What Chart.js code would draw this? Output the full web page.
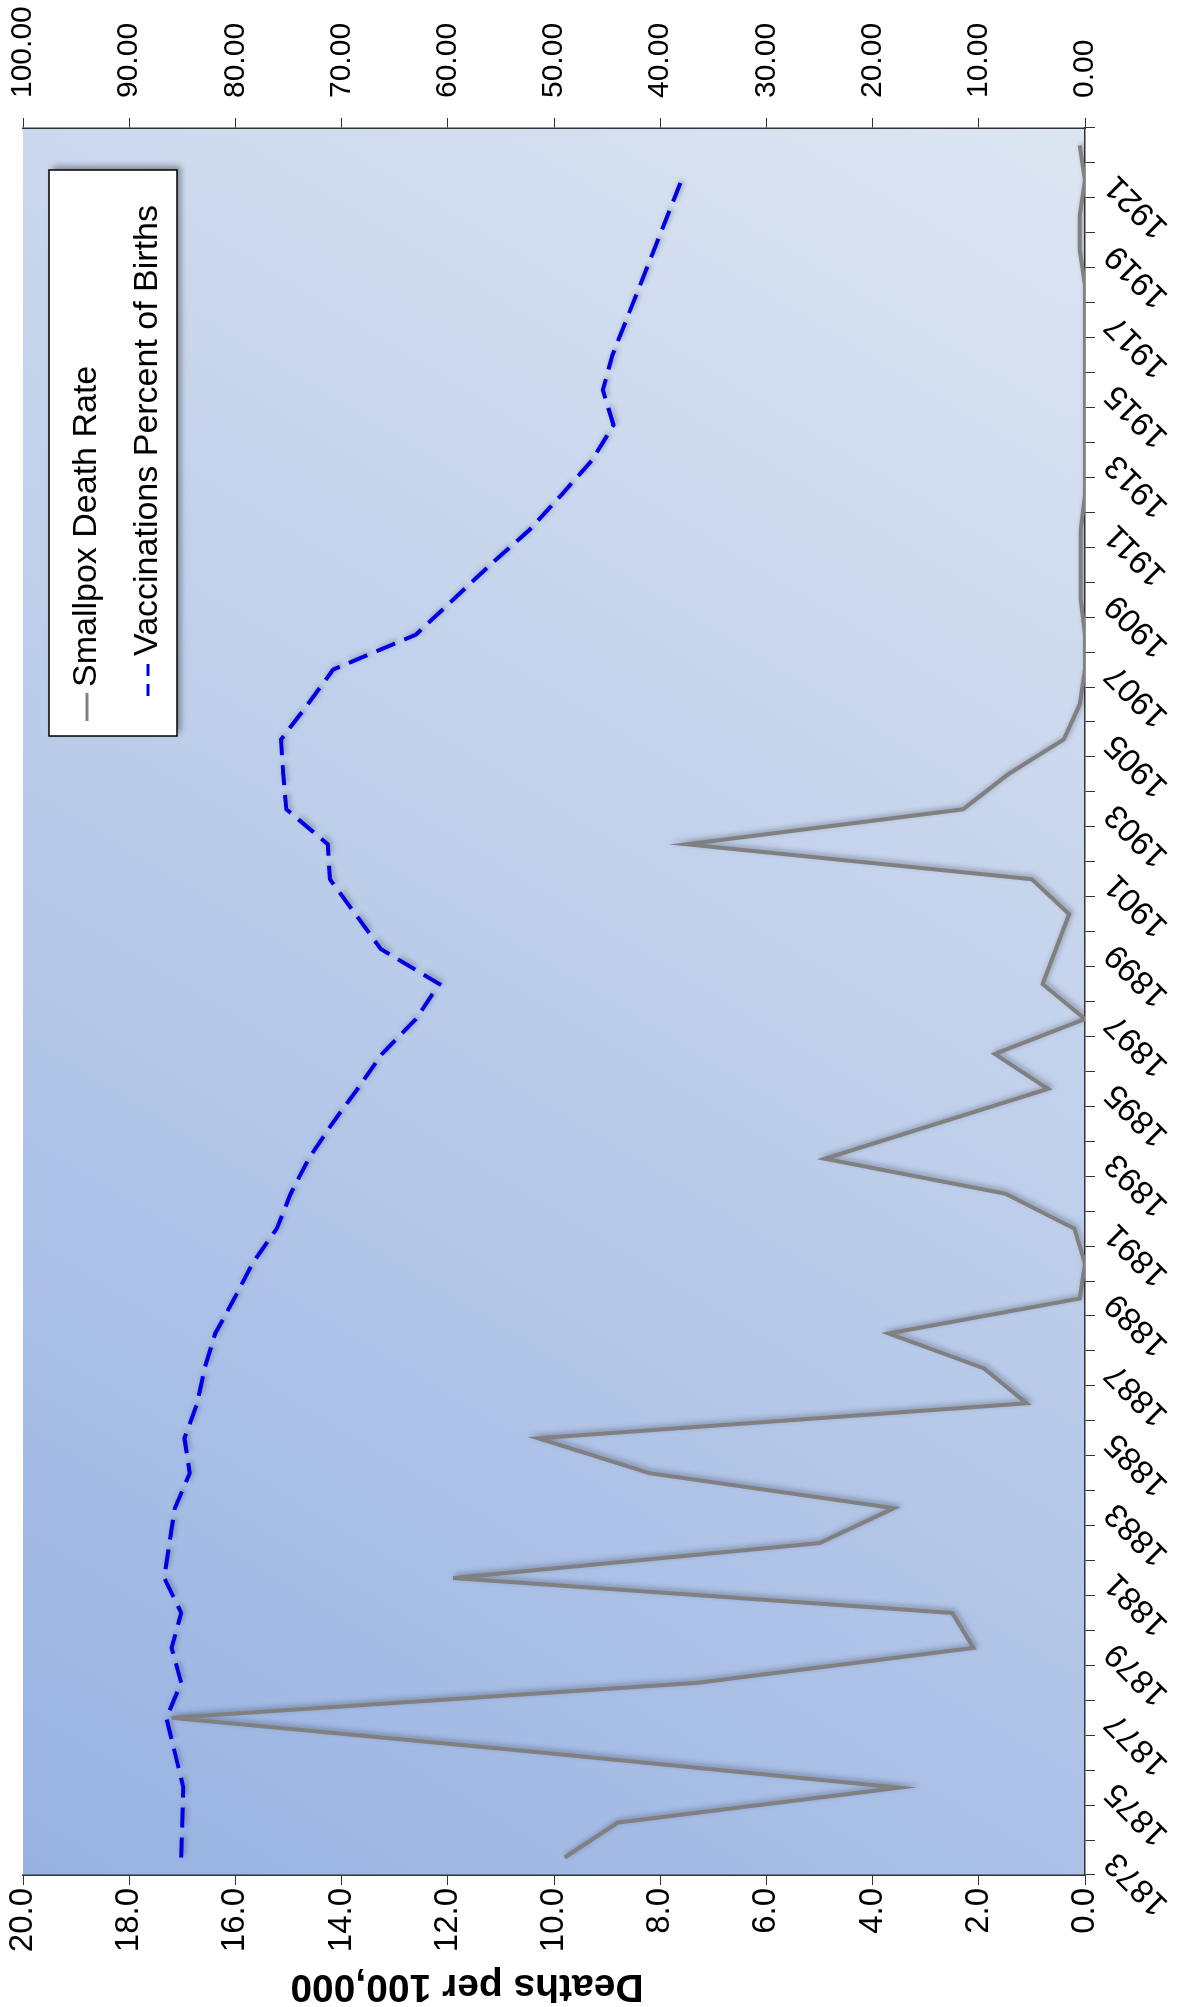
<!DOCTYPE html>
<html lang="en">
<head>
    <meta charset="UTF-8">
    <title>Smallpox Death Rate and Vaccinations</title>
    <style>
        html, body {
            margin: 0;
            padding: 0;
            background: #ffffff;
            width: 1177px;
            height: 2007px;
            overflow: hidden;
        }
        /* the chart is drawn landscape and turned a quarter turn to the left */
        #wrap {
            position: absolute;
            left: 0;
            top: 0;
            width: 2007px;
            height: 1177px;
            transform-origin: 0 0;
            transform: translateY(2007px) rotate(-90deg);
        }
    </style>
</head>
<body>
    <div id="wrap">
        <canvas id="myChart" width="2007" height="1177"></canvas>
    </div>

    <script src="https://cdn.jsdelivr.net/npm/chart.js"></script>
    <script>
        const years = [
            1873, 1874, 1875, 1876, 1877, 1878, 1879, 1880, 1881, 1882,
            1883, 1884, 1885, 1886, 1887, 1888, 1889, 1890, 1891, 1892,
            1893, 1894, 1895, 1896, 1897, 1898, 1899, 1900, 1901, 1902,
            1903, 1904, 1905, 1906, 1907, 1908, 1909, 1910, 1911, 1912,
            1913, 1914, 1915, 1916, 1917, 1918, 1919, 1920, 1921, 1922
        ];

        // deaths per 100,000 (left axis)
        const smallpoxDeaths = [
            9.8, 8.8, 3.5, 10.2, 17.2, 7.3, 2.1, 2.5, 11.9, 5.0,
            3.6, 8.2, 10.3, 1.1, 1.9, 3.7, 0.1, 0.0, 0.2, 1.5,
            4.9, 2.8, 0.7, 1.7, 0.0, 0.8, 0.55, 0.3, 1.0, 7.5,
            2.3, 1.45, 0.4, 0.1, 0.0, 0.0, 0.08, 0.08, 0.08, 0.0,
            0.0, 0.0, 0.0, 0.0, 0.0, 0.0, 0.1, 0.1, 0.0, 0.1
        ];

        // vaccinations as percent of births (right axis)
        const vaccinationPct = [
            85.1, 85.0, 84.9, 85.7, 86.5, 85.1, 86.0, 85.1, 86.7, 86.2,
            85.7, 84.3, 84.8, 83.6, 82.9, 81.9, 80.1, 78.4, 76.1, 74.8,
            73.1, 70.9, 68.5, 66.2, 63.0, 60.8, 66.3, 68.7, 71.1, 71.3,
            75.2, 75.5, 75.7, 73.2, 70.8, 63.0, 59.5, 56.0, 52.3, 49.3,
            46.4, 44.4, 45.4, 44.5, 43.2, 41.9, 40.6, 39.3, 38.0, null
        ];

        const leftTicks = [0, 2, 4, 6, 8, 10, 12, 14, 16, 18, 20];
        const rightTicks = [0, 10, 20, 30, 40, 50, 60, 70, 80, 90, 100];
        const leftTitle = 'Deaths per 100,000';

        const FONT = '"Liberation Sans", Arial, sans-serif';

        // blue gradient behind the plot
        const plotBackground = {
            id: 'plotBackground',
            beforeDraw(chart) {
                const { ctx, chartArea: a } = chart;
                const g = ctx.createLinearGradient(a.left, a.top, a.right, a.bottom);
                g.addColorStop(0, '#97b2e2');
                g.addColorStop(0.5, '#bccdea');
                g.addColorStop(1, '#dde5f2');
                ctx.save();
                ctx.fillStyle = g;
                ctx.fillRect(a.left, a.top, a.right - a.left, a.bottom - a.top);
                ctx.restore();
            }
        };

        // soft shadow under each line
        const lineShadow = {
            id: 'lineShadow',
            beforeDatasetDraw(chart) {
                const ctx = chart.ctx;
                ctx.save();
                ctx.shadowColor = 'rgba(40, 40, 60, 0.35)';
                ctx.shadowBlur = 5;
                ctx.shadowOffsetX = 2;
                ctx.shadowOffsetY = 2;
            },
            afterDatasetDraw(chart) {
                chart.ctx.restore();
            }
        };

        // left axis title, placed a bit above the middle like the original
        const axisTitle = {
            id: 'axisTitle',
            afterDraw(chart) {
                const { ctx, chartArea: a } = chart;
                const cy = a.top + (a.bottom - a.top) * 0.418;
                ctx.save();
                ctx.translate(21, cy);
                ctx.rotate(-Math.PI / 2);
                ctx.font = 'bold 39px ' + FONT;
                ctx.fillStyle = '#000000';
                ctx.textAlign = 'center';
                ctx.textBaseline = 'middle';
                ctx.fillText(leftTitle, 0, 0);
                ctx.restore();
            }
        };

        // boxed legend in the upper right of the plot
        const legendBox = {
            id: 'legendBox',
            afterDraw(chart) {
                const { ctx, chartArea: a } = chart;
                const w = 566, h = 128;
                const x = a.right - 42 - w;
                const y = a.top + 26;
                const starts = [15, 40];
                ctx.save();
                ctx.shadowColor = 'rgba(0, 0, 0, 0.35)';
                ctx.shadowBlur = 6;
                ctx.shadowOffsetX = 4;
                ctx.shadowOffsetY = 4;
                ctx.fillStyle = '#ffffff';
                ctx.fillRect(x, y, w, h);
                ctx.shadowColor = 'transparent';
                ctx.strokeStyle = '#000000';
                ctx.lineWidth = 1.5;
                ctx.strokeRect(x, y, w, h);
                ctx.font = '34px ' + FONT;
                ctx.textBaseline = 'middle';
                chart.data.datasets.forEach((ds, i) => {
                    const cy = y + 38 + i * 61;
                    const sx = x + starts[i];
                    const len = i === 1 ? 34 : 28;
                    ctx.beginPath();
                    ctx.setLineDash(i === 1 ? [12, 8] : []);
                    ctx.strokeStyle = ds.borderColor;
                    ctx.lineWidth = 3;
                    ctx.moveTo(sx, cy);
                    ctx.lineTo(sx + len, cy);
                    ctx.stroke();
                    ctx.setLineDash([]);
                    ctx.fillStyle = '#000000';
                    ctx.fillText(ds.label, sx + len + 6, cy);
                });
                ctx.restore();
            }
        };

        // keep the value axes from pushing the plot inwards
        function noEndPadding(scale, width) {
            scale.width = width;
            scale.paddingTop = 0;
            scale.paddingBottom = 0;
        }

        const ctx = document.getElementById('myChart').getContext('2d');
        const myChart = new Chart(ctx, {
            type: 'line',
            data: {
                labels: years,
                datasets: [
                    {
                        label: 'Smallpox Death Rate',
                        data: smallpoxDeaths,
                        yAxisID: 'y',
                        borderColor: '#808080',
                        borderWidth: 4,
                        pointRadius: 0,
                        tension: 0,
                        fill: false
                    },
                    {
                        label: 'Vaccinations Percent of Births',
                        data: vaccinationPct,
                        yAxisID: 'y1',
                        borderColor: '#0000e6',
                        borderWidth: 4,
                        borderDash: [20, 10],
                        pointRadius: 0,
                        tension: 0,
                        fill: false
                    }
                ]
            },
            options: {
                responsive: false,
                animation: false,
                layout: { padding: { top: 23, left: 0, right: 0, bottom: 0 } },
                plugins: {
                    legend: { display: false },
                    tooltip: { enabled: false }
                },
                scales: {
                    x: {
                        offset: true,
                        grid: { offset: true, drawOnChartArea: false, tickLength: 10, color: '#333333' },
                        border: { display: true, color: '#333333', width: 1.5 },
                        ticks: {
                            autoSkip: false,
                            maxRotation: 45,
                            minRotation: 45,
                            color: '#000000',
                            padding: 2,
                            font: { family: FONT, size: 33 },
                            callback: function (value, index) {
                                return index % 2 === 0 ? years[index] : '';
                            }
                        },
                        afterFit(scale) { scale.height = 92; }
                    },
                    y: {
                        position: 'left',
                        min: 0,
                        max: 20,
                        afterBuildTicks(scale) { scale.ticks = leftTicks.map(v => ({ value: v })); },
                        grid: { drawOnChartArea: false, tickLength: 10, color: '#333333' },
                        border: { display: true, color: '#333333', width: 1.5 },
                        ticks: {
                            color: '#000000',
                            padding: 3,
                            font: { family: FONT, size: 33 },
                            callback: v => Number(v).toFixed(1)
                        },
                        afterFit(scale) { noEndPadding(scale, 132); }
                    },
                    y1: {
                        position: 'right',
                        min: 0,
                        max: 100,
                        afterBuildTicks(scale) { scale.ticks = rightTicks.map(v => ({ value: v })); },
                        grid: { drawOnChartArea: false, tickLength: 10, color: '#333333' },
                        border: { display: true, color: '#333333', width: 1.5 },
                        ticks: {
                            color: '#000000',
                            padding: 20,
                            font: { family: FONT, size: 30 },
                            callback: v => Number(v).toFixed(2)
                        },
                        afterFit(scale) { noEndPadding(scale, 128); }
                    }
                }
            },
            plugins: [plotBackground, lineShadow, axisTitle, legendBox]
        });
    </script>
</body>
</html>
